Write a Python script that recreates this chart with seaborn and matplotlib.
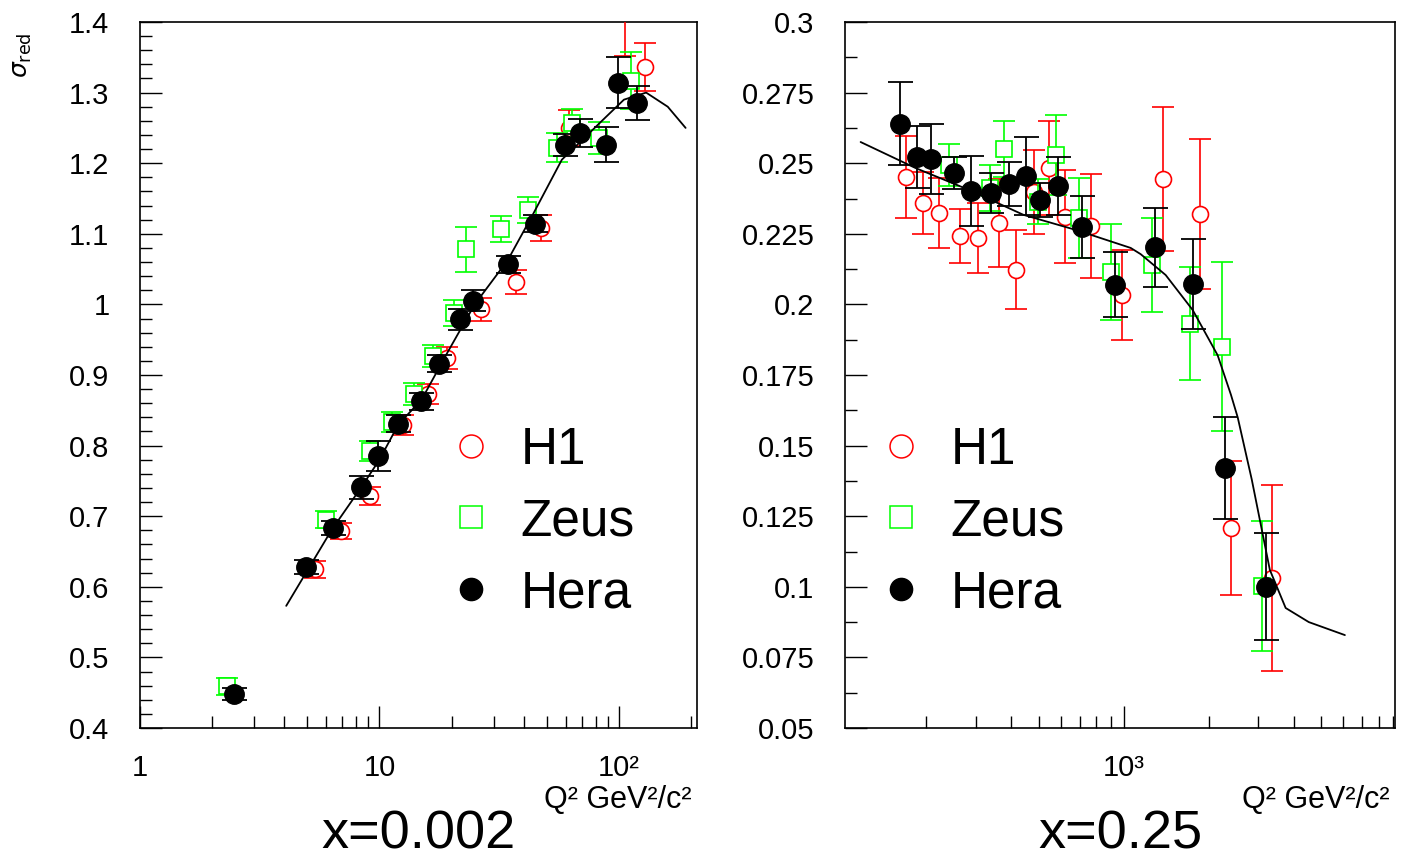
#importing all libraries
import matplotlib
matplotlib.use('Agg')
import matplotlib.pyplot as plt
import seaborn as sns
from matplotlib.lines import Line2D
from matplotlib.ticker import MultipleLocator, LogLocator, NullFormatter

#x=0.002 panel, values
h1_q2_a = [5.4, 6.9, 9.1, 12.6, 15.9, 19.1, 26.5, 37.1, 47.2, 62, 106, 128]
h1_sig_a = [0.625, 0.679, 0.729, 0.829, 0.873, 0.924, 0.993, 1.032, 1.108, 1.250, 1.42, 1.336]
h1_err_a = [0.012, 0.012, 0.013, 0.014, 0.014, 0.015, 0.016, 0.017, 0.018, 0.025, 0.068, 0.034]

zeus_q2_a = [2.31, 6.0, 9.17, 11.3, 13.9, 16.8, 20.4, 23.1, 32.1, 41.6, 55, 63.6, 82.4, 112]
zeus_sig_a = [0.459, 0.695, 0.792, 0.833, 0.873, 0.927, 0.988, 1.078, 1.107, 1.134, 1.222, 1.257, 1.236, 1.317]
zeus_err_a = [0.012, 0.012, 0.014, 0.014, 0.015, 0.016, 0.018, 0.032, 0.018, 0.018, 0.021, 0.02, 0.023, 0.04]

hera_q2_a = [2.47, 4.95, 6.42, 8.41, 9.9, 11.9, 14.9, 17.8, 21.8, 24.7, 34.3, 44.5, 59.4, 68.7, 88.3, 99.6, 119]
hera_sig_a = [0.448, 0.628, 0.683, 0.741, 0.785, 0.831, 0.863, 0.916, 0.979, 1.005, 1.057, 1.114, 1.226, 1.243, 1.226, 1.314, 1.285]
hera_err_a = [0.008, 0.01, 0.01, 0.016, 0.021, 0.012, 0.012, 0.012, 0.015, 0.015, 0.012, 0.012, 0.016, 0.02, 0.025, 0.036, 0.024]

fit_q2_a = [4.08, 6.3, 8.4, 10, 12, 15, 19.1, 25, 34.4, 44, 57.8, 88, 105, 130, 160, 190]
fit_sig_a = [0.573, 0.680, 0.741, 0.78, 0.83, 0.865, 0.93, 1.0, 1.063, 1.129, 1.205, 1.265, 1.29, 1.30, 1.28, 1.25]

#x=0.25 panel
h1_q2_b = [169, 195, 221, 264, 306, 363, 414, 480, 542, 622, 764, 984, 1374, 1861, 2400, 3350]
h1_sig_b = [0.2451, 0.2359, 0.2324, 0.2242, 0.2235, 0.2288, 0.2122, 0.2398, 0.2483, 0.231, 0.2278, 0.2033, 0.2444, 0.232, 0.1208, 0.1031]
h1_err_b = [0.0145, 0.011, 0.0125, 0.0097, 0.0124, 0.0155, 0.014, 0.015, 0.0165, 0.0165, 0.0185, 0.016, 0.0255, 0.0265, 0.0237, 0.033]

zeus_q2_b = [241, 335, 378, 496, 574, 692, 899, 1256, 1714, 2228, 3085]
zeus_sig_b = [0.2494, 0.2412, 0.255, 0.2363, 0.2529, 0.2306, 0.2115, 0.214, 0.1931, 0.185, 0.1003]
zeus_err_b = [0.0075, 0.008, 0.0098, 0.008, 0.014, 0.014, 0.017, 0.0167, 0.02, 0.03, 0.023]

hera_q2_b = [161, 186, 208, 250, 288, 340, 391, 452, 507, 587, 710, 930, 1290, 1760, 2290, 3200]
hera_sig_b = [0.264, 0.2522, 0.2515, 0.2465, 0.2402, 0.2395, 0.2426, 0.2455, 0.237, 0.242, 0.2274, 0.2069, 0.2203, 0.2072, 0.142, 0.100]
hera_err_b = [0.0147, 0.011, 0.0125, 0.0057, 0.0124, 0.007, 0.0078, 0.0137, 0.006, 0.0103, 0.011, 0.0115, 0.014, 0.016, 0.018, 0.019]

fit_q2_b = [117, 183, 284, 442, 681, 1059, 1149, 1409, 1757, 2153, 2400, 2536, 2844, 3296, 3750, 4530, 6080]
fit_sig_b = [0.2575, 0.2483, 0.2405, 0.2317, 0.2263, 0.22, 0.2178, 0.2104, 0.198, 0.182, 0.168, 0.16, 0.138, 0.106, 0.0925, 0.0875, 0.0829]

#axis labels
ylabels_a = ['0.4', '0.5', '0.6', '0.7', '0.8', '0.9', '1', '1.1', '1.2', '1.3', '1.4']
ylabels_b = ['0.05', '0.075', '0.1', '0.125', '0.15', '0.175', '0.2', '0.225', '0.25', '0.275', '0.3']
legend_labels = ['H1', 'Zeus', 'Hera']

sns.set_style("white")
plt.rcParams['font.family'] = ['Liberation Sans', 'DejaVu Sans']
plt.rcParams['text.color'] = 'black'
plt.rcParams['xtick.color'] = 'black'
plt.rcParams['ytick.color'] = 'black'

fig = plt.figure(figsize=(14.02, 8.6), dpi=100)
ax1 = fig.add_axes([140/1402, 132/860, 557/1402, 706/860])
ax2 = fig.add_axes([845/1402, 132/860, 550/1402, 706/860])

green = '#00ff00'


#one panel: three data sets with errors and the fit line
def panel(ax, h1, zeus, hera, fit, xlim, ylim, yticks, ylabels, yminor, xticks, xlabels, title, leg_x):
    ax.set_xscale('log')
    ax.errorbar(h1[0], h1[1], yerr=h1[2], fmt='o', ms=11.5, mfc='white', mec='red', mew=1.2,
                ecolor='red', elinewidth=1.2, capsize=8, capthick=1.2, zorder=3)
    ax.errorbar(zeus[0], zeus[1], yerr=zeus[2], fmt='s', ms=11.5, mfc='white', mec=green, mew=1.2,
                ecolor=green, elinewidth=1.2, capsize=8, capthick=1.2, zorder=4)
    sns.lineplot(x=fit[0], y=fit[1], ax=ax, color='black', lw=1.3, zorder=5)
    ax.errorbar(hera[0], hera[1], yerr=hera[2], fmt='o', ms=14, mfc='black', mec='black',
                ecolor='black', elinewidth=1.3, capsize=9, capthick=1.3, zorder=6)
    ax.set_xlim(xlim)
    ax.set_ylim(ylim)
    ax.set_yticks(yticks)
    ax.set_yticklabels(ylabels)
    ax.yaxis.set_minor_locator(MultipleLocator(yminor))
    ax.set_xticks(xticks)
    ax.set_xticklabels(xlabels)
    ax.xaxis.set_minor_locator(LogLocator(base=10, subs=range(2, 10)))
    ax.xaxis.set_minor_formatter(NullFormatter())
    ax.tick_params(which='major', direction='in', length=16, width=1, labelsize=21, top=False, right=False,
                   bottom=True, left=True)
    ax.tick_params(which='minor', direction='in', length=8.5, width=1, top=False, right=False,
                   bottom=True, left=True)
    ax.tick_params(axis='x', pad=19)
    ax.tick_params(axis='y', pad=22)
    for s in ax.spines.values():
        s.set_color('black')
        s.set_linewidth(1.2)
    ax.set_xlabel('')
    ax.set_ylabel('')
    ax.text(0.99, -0.102, 'Q² GeV²/c²', transform=ax.transAxes, ha='right', va='center', fontsize=22)
    ax.text(0.5, -0.1856, title, transform=ax.transAxes, ha='center', va='bottom', fontsize=39)
    handles = [Line2D([], [], ls='none', marker='o', ms=16.5, mfc='none', mec='red', mew=1.1),
               Line2D([], [], ls='none', marker='s', ms=16.5, mfc='none', mec=green, mew=1.1),
               Line2D([], [], ls='none', marker='o', ms=16, mfc='black', mec='black')]
    ax.legend(handles, legend_labels, loc='upper left', bbox_to_anchor=(leg_x, 0.428), frameon=False,
              fontsize=37, handlelength=1.0, handletextpad=0.47, labelspacing=0.44,
              borderpad=0, borderaxespad=0)


yt_a = [0.4 + 0.1*i for i in range(11)]
yt_b = [0.05 + 0.025*i for i in range(11)]

panel(ax1, (h1_q2_a, h1_sig_a, h1_err_a), (zeus_q2_a, zeus_sig_a, zeus_err_a),
      (hera_q2_a, hera_sig_a, hera_err_a), (fit_q2_a, fit_sig_a),
      (1, 212), (0.4, 1.4), yt_a, ylabels_a, 0.02, [1, 10, 100], ['1', '10', '10²'], 'x=0.002', 0.5476)
panel(ax2, (h1_q2_b, h1_sig_b, h1_err_b), (zeus_q2_b, zeus_sig_b, zeus_err_b),
      (hera_q2_b, hera_sig_b, hera_err_b), (fit_q2_b, fit_sig_b),
      (103, 9150), (0.05, 0.3), yt_b, ylabels_b, 0.0125, [1000], ['10³'], 'x=0.25', 0.0545)

fig.text(22/1402, 1 - 55/860, r'$\sigma_{\rm red}$', rotation=90, ha='center', va='center', fontsize=18)

plt.savefig('out.png', dpi=100)
